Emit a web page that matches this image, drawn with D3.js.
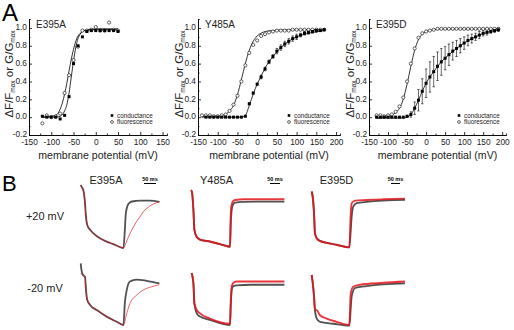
<!DOCTYPE html>
<html>
<head>
<meta charset="utf-8">
<script src="https://cdn.jsdelivr.net/npm/d3@7"></script>
<style>
  body { margin: 0; background: #fff; }
  svg { display: block; font-family: "Liberation Sans", Arial, sans-serif; }
</style>
</head>
<body>
<svg id="fig" width="514" height="330"></svg>
<script>
// ---------- panel A data (normalized G-V and F-V) ----------
const e395aV = [-120,-110,-100,-90,-80,-70,-60,-50,-40,-30,-20,-10,0,10,20,30,40,50];
const e395aG = [0.01,0.0,0.0,0.0,-0.02,0.02,0.23,0.60,0.80,0.90,0.96,0.97,0.97,0.97,0.97,0.97,0.97,0.96];
const e395aF = [-0.07,0.02,0.0,0.01,0.04,0.27,0.47,0.64,0.79,0.97,0.97,0.98,1.01,0.97,0.97,1.06,0.98,0.97];
const e395aFitV = [-120,-90,-80,-75,-70,-65,-60,-55,-50,-45,-40,-35,-30,-20,0,50];
const e395aFitG = [0,0,0.01,0.03,0.07,0.14,0.27,0.45,0.63,0.78,0.88,0.93,0.96,0.975,0.98,0.98];
const e395aFitF = [0,0.02,0.09,0.16,0.26,0.38,0.52,0.65,0.76,0.85,0.91,0.94,0.96,0.98,0.99,0.99];

const y485aV = [-140,-130,-120,-110,-100,-90,-80,-70,-60,-50,-40,-30,-20,-10,0,10,20,30,40,50,60,70,80,90,100,110,120,130,140,150,160,170];
const y485aG = [null,0,0,0,0,0,0,0,0,0,0,0.01,0.15,0.27,0.37,0.45,0.54,0.62,0.68,0.74,0.78,0.82,0.85,0.88,0.90,0.92,0.94,0.95,0.96,0.97,0.97,0.98];
const y485aGErr = [0,0,0,0,0,0,0,0,0,0,0,0,0.01,0.01,0.01,0.02,0.02,0.02,0.02,0.03,0.03,0.03,0.03,0.03,0.03,0.02,0.02,0.02,0.02,0.02,0.01,0.01];
const y485aF = [0.02,0.02,0.02,0.01,0.01,0.02,0.03,0.07,0.14,0.24,0.40,0.58,0.72,0.81,0.86,0.91,0.93,0.95,0.96,0.97,0.97,0.97,0.97,0.98,0.98,0.98,0.98,0.98,0.98,0.98,0.98,0.98];
const y485aFitV = [-140,-100,-80,-70,-60,-50,-40,-30,-20,-10,0,10,20,40,80,170];
const y485aFitF = [0.01,0.01,0.03,0.07,0.13,0.25,0.42,0.60,0.75,0.85,0.91,0.94,0.96,0.97,0.98,0.98];
const y485aFitGV = [-140,-40,-30,-20,-10,0,10,20,30,40,60,80,100,130,170];
const y485aFitG = [0,0,0.02,0.13,0.26,0.37,0.46,0.55,0.62,0.68,0.78,0.85,0.90,0.94,0.97];

const e395dV = [-130,-120,-110,-100,-90,-80,-70,-60,-50,-40,-30,-20,-10,0,10,20,30,40,50,60,70,80,90,100,110,120,130,140,150,160,170,180,190];
const e395dG = [0,0,0,0,0,0,0,0,0.01,0.03,0.10,0.19,0.29,0.38,0.45,0.51,0.57,0.62,0.66,0.70,0.74,0.77,0.80,0.83,0.86,0.88,0.90,0.92,0.94,0.95,0.96,0.97,0.98];
const e395dGErr = [0,0,0,0,0,0,0,0,0.01,0.03,0.07,0.12,0.14,0.16,0.17,0.17,0.16,0.15,0.13,0.12,0.10,0.09,0.08,0.07,0.06,0.05,0.04,0.04,0.03,0.03,0.02,0.02,0.02];
const e395dF = [0.02,0.02,0.01,0.02,0.03,0.06,0.12,0.22,0.40,0.60,0.77,0.89,0.94,0.96,0.97,0.98,0.99,0.99,0.99,0.99,0.99,0.99,0.99,0.99,0.99,0.99,0.99,0.99,0.99,0.99,0.99,0.99,0.99];
const e395dFitV = [-130,-100,-90,-80,-70,-60,-50,-40,-30,-20,-10,0,20,50,190];
const e395dFitF = [-0.01,0,0.02,0.05,0.10,0.20,0.37,0.57,0.75,0.87,0.93,0.96,0.98,0.99,0.99];
const e395dFitGV = [-130,-60,-50,-40,-30,-20,-10,0,20,40,60,80,100,130,160,190];
const e395dFitG = [-0.01,-0.01,0,0.03,0.10,0.19,0.29,0.38,0.51,0.62,0.70,0.77,0.83,0.90,0.95,0.975];

const xTicksA = [-150,-100,-50,0,50,100,150,200];
const yTicksA = [-0.2,0,0.2,0.4,0.6,0.8,1.0];

// ---------- panel B data (fluorescence traces, [time ms, normalized F]) ----------
const e395aP20Black = [[0,1.0],[4,0.97],[11,0.92],[18,0.72],[22,0.51],[27,0.39],[39,0.31],[52,0.26],[80,0.18],[108,0.13],[136,0.09],[161,0.05],[178,0.03],[184,0.31],[188,0.56],[196,0.69],[205,0.73],[219,0.75],[247,0.76],[289,0.76],[328,0.74]];
const e395aP20Red = [[0,1.0],[4,0.97],[11,0.92],[18,0.72],[22,0.51],[27,0.39],[39,0.31],[52,0.26],[80,0.18],[108,0.13],[136,0.09],[161,0.05],[178,0.03],[192,0.14],[205,0.25],[219,0.35],[233,0.44],[247,0.51],[261,0.59],[275,0.64],[289,0.68],[303,0.71],[328,0.74]];
const e395aM20Black = [[0,0.98],[4,0.86],[10,0.80],[18,0.77],[22,0.57],[27,0.42],[39,0.34],[67,0.26],[108,0.16],[150,0.08],[178,0.03],[184,0.37],[192,0.57],[205,0.70],[233,0.73],[275,0.71],[328,0.67]];
const e395aM20Red = [[0,0.82],[10,0.80],[18,0.77],[22,0.57],[27,0.42],[39,0.34],[67,0.26],[108,0.16],[150,0.08],[178,0.03],[192,0.21],[205,0.36],[233,0.49],[261,0.57],[296,0.62],[328,0.65]];

const y485aP20Black = [[0,0.92],[5,0.89],[12,0.62],[17,0.31],[29,0.20],[45,0.16],[95,0.13],[145,0.09],[195,0.05],[199,0.42],[204,0.63],[210,0.70],[220,0.73],[262,0.74],[350,0.745],[467,0.745]];
const y485aP20Red = [[0,0.92],[5,0.89],[12,0.62],[17,0.31],[29,0.20],[45,0.16],[95,0.13],[145,0.09],[195,0.05],[198,0.45],[202,0.68],[210,0.75],[220,0.77],[262,0.78],[350,0.78],[467,0.78]];
const y485aM20Black = [[3,0.83],[12,0.67],[17,0.36],[29,0.21],[45,0.16],[95,0.11],[195,0.03],[199,0.35],[204,0.58],[212,0.63],[230,0.64],[300,0.65],[467,0.65]];
const y485aM20Red = [[3,0.83],[12,0.67],[17,0.36],[29,0.26],[45,0.21],[95,0.13],[195,0.05],[199,0.40],[204,0.63],[212,0.68],[230,0.70],[300,0.70],[467,0.70]];

const e395dP20Black = [[0,0.90],[4,0.85],[13,0.56],[18,0.26],[28,0.18],[46,0.14],[83,0.11],[139,0.08],[209,0.04],[222,0.51],[231,0.67],[250,0.72],[306,0.74],[518,0.77]];
const e395dP20Red = [[0,0.90],[4,0.85],[13,0.56],[18,0.26],[28,0.18],[46,0.14],[83,0.11],[139,0.08],[209,0.04],[217,0.56],[222,0.72],[241,0.76],[306,0.77],[398,0.78],[518,0.79]];
const e395dM20Black = [[0,0.80],[4,0.72],[13,0.47],[18,0.26],[28,0.13],[46,0.08],[120,0.05],[209,0.02],[222,0.47],[241,0.60],[306,0.63],[518,0.67]];
const e395dM20Red = [[0,0.80],[4,0.72],[13,0.47],[18,0.26],[28,0.26],[46,0.18],[83,0.13],[139,0.08],[209,0.03],[217,0.52],[231,0.62],[268,0.65],[398,0.68],[518,0.70]];

const mutants = ['E395A','Y485A','E395D'];
const voltages = ['+20 mV','-20 mV'];

// ---------- drawing ----------
const svg = d3.select('#fig');
svg.append('rect').attr('width', 514).attr('height', 330).attr('fill', '#fff');

svg.append('text').attr('x', 2).attr('y', 21).attr('font-size', 24).text('A');
svg.append('text').attr('x', 2).attr('y', 191).attr('font-size', 22).text('B');

const plotsA = [
    {name: mutants[0], V: e395aV, G: e395aG, F: e395aF, fitGV: e395aFitV, fitG: e395aFitG, fitFV: e395aFitV, fitF: e395aFitF,
     x0: 29, x1: 167, dom: [-150, 160], ticks: xTicksA.slice(0, 7), ylab: 13, leg: 112},
    {name: mutants[1], V: y485aV, G: y485aG, GErr: y485aGErr, F: y485aF, fitGV: y485aFitGV, fitG: y485aFitG, fitFV: y485aFitV, fitF: y485aFitF,
     x0: 198, x1: 340, dom: [-150, 210], ticks: xTicksA, ylab: 182.5, leg: 289},
    {name: mutants[2], V: e395dV, G: e395dG, GErr: e395dGErr, F: e395dF, fitGV: e395dFitGV, fitG: e395dFitG, fitFV: e395dFitV, fitF: e395dFitF,
     x0: 369, x1: 506, dom: [-150, 210], ticks: xTicksA, ylab: 353.5, leg: 459}
];

const yA = d3.scaleLinear().domain([-0.2, 1.1]).range([135, 19]);

plotsA.forEach(function(p) {
    const x = d3.scaleLinear().domain(p.dom).range([p.x0, p.x1]);
    const g = svg.append('g');

    // axes with inward ticks
    const minor = d3.range(p.dom[0] + 25, p.dom[1], 50);
    g.append('g').attr('transform', 'translate(0,135)')
        .call(d3.axisBottom(x).tickValues(minor).tickSize(-1.5).tickFormat(''));
    g.append('g').attr('class', 'xax').attr('transform', 'translate(0,135)')
        .call(d3.axisBottom(x).tickValues(p.ticks).tickSizeInner(-3).tickSizeOuter(0).tickPadding(4).tickFormat(d => d));
    g.append('g').attr('transform', 'translate(' + p.x0 + ',0)')
        .call(d3.axisLeft(yA).tickValues([-0.1,0.1,0.3,0.5,0.7,0.9,1.1]).tickSize(-1.5).tickFormat(''));
    g.append('g').attr('class', 'yax').attr('transform', 'translate(' + p.x0 + ',0)')
        .call(d3.axisLeft(yA).tickValues(yTicksA).tickSizeInner(-3).tickSizeOuter(0).tickPadding(2).tickFormat(d => d.toFixed(1)));
    g.selectAll('.domain').attr('stroke', '#000').attr('stroke-width', 0.8);
    g.selectAll('.tick line').attr('stroke-width', 0.8);
    g.selectAll('.tick text').attr('font-size', 8.3).attr('font-family', '"Liberation Sans", Arial, sans-serif').attr('fill', '#222');
    g.selectAll('.yax .tick text').attr('dy', '0.22em');

    // axis titles
    g.append('text').attr('x', (p.x0 + p.x1) / 2).attr('y', 159).attr('text-anchor', 'middle')
        .attr('font-size', 10.6).attr('fill', '#222').text('membrane potential (mV)');
    const yl = g.append('text').attr('transform', 'translate(' + p.ylab + ',74) rotate(-90)')
        .attr('text-anchor', 'middle').attr('font-size', 11.5).attr('fill', '#222');
    yl.append('tspan').text('\u0394F/F');
    yl.append('tspan').attr('font-size', 6.5).attr('dy', 2).text('max');
    yl.append('tspan').attr('dy', -2).text(' or G/G');
    yl.append('tspan').attr('font-size', 6.5).attr('dy', 2).text('max');

    g.append('text').attr('x', p.x0 + 7).attr('y', 28).attr('font-size', 10).attr('fill', '#222').text(p.name);

    // fits
    const line = d3.line().curve(d3.curveMonotoneX).x(d => x(d[0])).y(d => yA(d[1]));
    g.append('path').attr('d', line(d3.zip(p.fitGV, p.fitG))).attr('fill', 'none').attr('stroke', '#000').attr('stroke-width', 0.8);
    g.append('path').attr('d', line(d3.zip(p.fitFV, p.fitF))).attr('fill', 'none').attr('stroke', '#000').attr('stroke-width', 0.8);

    // error bars
    if (p.GErr) {
        p.V.forEach(function(v, i) {
            if (p.G[i] === null || !p.GErr[i]) return;
            g.append('line').attr('x1', x(v)).attr('x2', x(v))
                .attr('y1', yA(p.G[i] - p.GErr[i])).attr('y2', yA(p.G[i] + p.GErr[i]))
                .attr('stroke', '#000').attr('stroke-width', 0.6);
            [p.G[i] - p.GErr[i], p.G[i] + p.GErr[i]].forEach(function(e) {
                g.append('line').attr('x1', x(v) - 1.2).attr('x2', x(v) + 1.2)
                    .attr('y1', yA(e)).attr('y2', yA(e)).attr('stroke', '#000').attr('stroke-width', 0.6);
            });
        });
    }

    // fluorescence: open circles
    g.selectAll('circle.f').data(d3.zip(p.V, p.F).filter(d => d[1] !== null)).enter()
        .append('circle').attr('cx', d => x(d[0])).attr('cy', d => yA(d[1])).attr('r', 1.6)
        .attr('fill', '#fff').attr('stroke', '#000').attr('stroke-width', 0.6);
    // conductance: filled squares
    g.selectAll('rect.g').data(d3.zip(p.V, p.G).filter(d => d[1] !== null)).enter()
        .append('rect').attr('x', d => x(d[0]) - 1.5).attr('y', d => yA(d[1]) - 1.5)
        .attr('width', 3).attr('height', 3).attr('fill', '#000');

    // legend
    g.append('rect').attr('x', p.leg - 1.3).attr('y', 114.2).attr('width', 2.6).attr('height', 2.6).attr('fill', '#000');
    g.append('circle').attr('cx', p.leg).attr('cy', 122).attr('r', 1.4).attr('fill', '#fff').attr('stroke', '#000').attr('stroke-width', 0.6);
    g.append('text').attr('x', p.leg + 5).attr('y', 117.5).attr('font-size', 6.3).attr('fill', '#222').text('conductance');
    g.append('text').attr('x', p.leg + 5).attr('y', 124).attr('font-size', 6.3).attr('fill', '#222').text('fluorescence');
});

// ---------- panel B ----------
const colsB = [
    {name: mutants[0], x0: 80.7, k: 0.24, tMax: 328, traces: [[e395aP20Black, e395aP20Red], [e395aM20Black, e395aM20Red]],
     lab: 106, bar: 150, redW: 0.8, blackW: 1.8},
    {name: mutants[1], x0: 191, k: 0.2, tMax: 467, traces: [[y485aP20Black, y485aP20Red], [y485aM20Black, y485aM20Red]],
     lab: 216.5, bar: 275, redW: 1.9, blackW: 1.8},
    {name: mutants[2], x0: 311.7, k: 0.18, tMax: 518, traces: [[e395dP20Black, e395dP20Red], [e395dM20Black, e395dM20Red]],
     lab: 336.5, bar: 395.5, redW: 1.9, blackW: 1.8}
];
const rowsB = [{lab: voltages[0], y0: 250, y1: 185, ty: 220}, {lab: voltages[1], y0: 327, y1: 262, ty: 292}];

rowsB.forEach(function(r) {
    svg.append('text').attr('x', 45).attr('y', r.ty).attr('text-anchor', 'middle').attr('font-size', 11).attr('fill', '#222').text(r.lab);
});

colsB.forEach(function(c) {
    const t = d3.scaleLinear().domain([0, c.tMax]).range([c.x0, c.x0 + c.k * c.tMax]);
    svg.append('text').attr('x', c.lab).attr('y', 183.5).attr('text-anchor', 'middle').attr('font-size', 11).attr('fill', '#222').text(c.name);

    // 50 ms scale bar
    svg.append('line').attr('x1', c.bar - c.k * 25).attr('x2', c.bar + c.k * 25).attr('y1', 183.5).attr('y2', 183.5)
        .attr('stroke', '#000').attr('stroke-width', 1);
    svg.append('text').attr('x', c.bar).attr('y', 180.5).attr('text-anchor', 'middle').attr('font-size', 5.5)
        .attr('font-weight', 'bold').text('50 ms');

    rowsB.forEach(function(r, ri) {
        const y = d3.scaleLinear().domain([0, 1]).range([r.y0, r.y1]);
        const line = d3.line().curve(d3.curveMonotoneX).x(d => t(d[0])).y(d => y(d[1]));
        svg.append('path').attr('d', line(c.traces[ri][0])).attr('fill', 'none')
            .attr('stroke', '#333').attr('stroke-width', c.blackW).attr('stroke-opacity', 0.85);
        svg.append('path').attr('d', line(c.traces[ri][1])).attr('fill', 'none')
            .attr('stroke', '#e3141b').attr('stroke-width', c.redW).attr('stroke-opacity', 0.85);
    });
});
</script>
</body>
</html>
